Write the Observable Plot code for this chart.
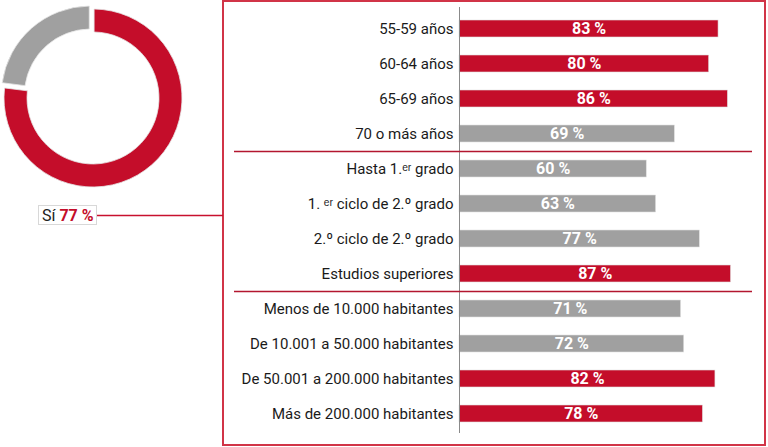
<!DOCTYPE html>
<html><head><meta charset="utf-8">
<script src="https://cdn.jsdelivr.net/npm/d3@7"></script>
<script src="https://cdn.jsdelivr.net/npm/@observablehq/plot@0.6"></script>
<style>
body{margin:0;background:#fff;}
#chart{position:relative;width:768px;height:447px;overflow:hidden;}
#chart svg{display:block;}
</style>
</head><body><div id="chart"></div>
<script>
// ---- data ----
const categorias = [
  "55-59 años","60-64 años","65-69 años","70 o más años",
  "Hasta 1.ᵉʳ grado","1. ᵉʳ ciclo de 2.º grado","2.º ciclo de 2.º grado","Estudios superiores",
  "Menos de 10.000 habitantes","De 10.001 a 50.000 habitantes","De 50.001 a 200.000 habitantes","Más de 200.000 habitantes"
];
const valores = [83, 80, 86, 69, 60, 63, 77, 87, 71, 72, 82, 78];
const finDeGrupo = ["70 o más años", "Estudios superiores"];
const donutEtiquetas = ["Sí", "No"];
const donutValores = [77, 23];

const RED = "#c40d2a", GRAY = "#a0a0a0";
const total = donutValores[0];
const data = categorias.map((c, i) => ({c, v: valores[i], alto: valores[i] > total}));

const PAD = 0.51;
const opts = (sepDy) => ({
  width: 768, height: 447,
  marginLeft: 459, marginRight: 0, marginTop: 7, marginBottom: 12,
  style: {fontFamily: "Roboto, sans-serif", fontSize: "15px", color: "#1a1a1a", background: "transparent", overflow: "visible"},
  x: {domain: [0, 99], axis: null},
  y: {domain: categorias, paddingInner: PAD, paddingOuter: 0.26, label: null, tickSize: 0, tickPadding: 6},
  color: {domain: [true, false], range: [RED, GRAY]},
  marks: [
    Plot.barX(data, {y: "c", x: "v", fill: "alto", stroke: "#e2e2e2", strokeWidth: 0.6}),
    Plot.text(data, {y: "c", x: d => d.v / 2, text: d => d.v + " %", fill: "white", fontWeight: "bold", fontSize: 16}),
    Plot.ruleX([0], {stroke: "#8a8a8a", strokeWidth: 1, insetBottom: 2}),
    Plot.ruleY(finDeGrupo, {y: d => d, dy: sepDy, stroke: "#b3162f", strokeWidth: 1.5, insetLeft: -225, insetRight: 16})
  ]
});

const tmp = Plot.plot(opts(0));
const ys = tmp.scale("y");
const step = ys.step ?? (ys.bandwidth / (1 - PAD));
const chart = Plot.plot(opts(step / 2));
document.getElementById("chart").appendChild(chart);

// ---- overlay: frame box, donut, label, connector ----
const svg = d3.select(chart);
svg.append("rect")
  .attr("x", 223).attr("y", 1).attr("width", 542).attr("height", 444)
  .attr("fill", "none").attr("stroke", "#d13447").attr("stroke-width", 2);

const pie = d3.pie().sort(null).value(d => d)(donutValores);
const arc = d3.arc().innerRadius(66).outerRadius(89).padAngle(0.02);
const g = svg.append("g").attr("transform", "translate(93,98)");
g.selectAll("path").data(pie).join("path")
  .attr("d", arc)
  .attr("fill", (d, i) => i === 0 ? RED : GRAY)
  .attr("stroke", "#e4e4e4").attr("stroke-width", 0.8)
  .attr("transform", (d, i) => {
    if (i === 0) return null;
    const a = (d.startAngle + d.endAngle) / 2, r = 4;
    return `translate(${Math.sin(a) * r},${-Math.cos(a) * r})`;
  });

svg.append("line")
  .attr("x1", 97).attr("x2", 223).attr("y1", 215.5).attr("y2", 215.5)
  .attr("stroke", "#c8102e").attr("stroke-width", 1.5);
svg.append("rect")
  .attr("x", 38.5).attr("y", 205.5).attr("width", 58).attr("height", 19)
  .attr("fill", "white").attr("stroke", "#d8d8d8");
const t = svg.append("text")
  .attr("x", 42).attr("y", 221).attr("text-anchor", "start")
  .attr("font-family", "Roboto, sans-serif").attr("font-size", 16).attr("fill", "#222");
t.append("tspan").text(donutEtiquetas[0] + " ");
t.append("tspan").attr("font-weight", "bold").attr("fill", RED).text(donutValores[0] + " %");
</script>
</body></html>
